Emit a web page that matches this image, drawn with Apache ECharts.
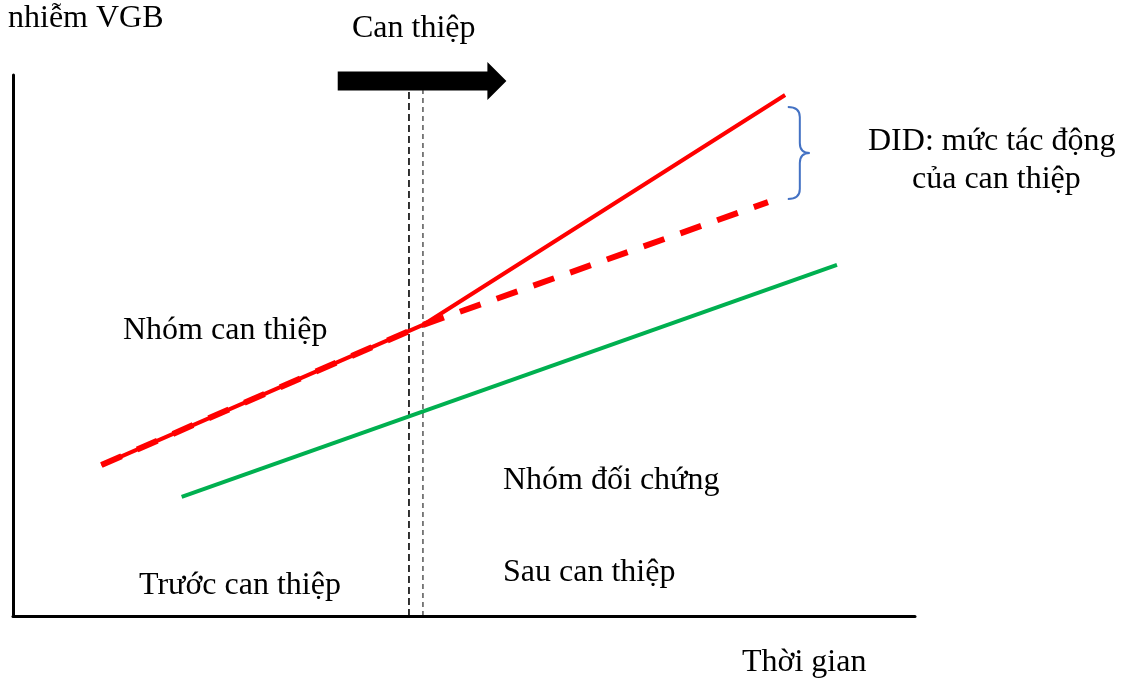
<!DOCTYPE html>
<html>
<head>
<meta charset="utf-8">
<script src="https://cdn.jsdelivr.net/npm/echarts@6/dist/echarts.min.js"></script>
<style>
html,body{margin:0;padding:0;background:#fff;}
#chart{width:1132px;height:678px;}
</style>
</head>
<body>
<div id="chart"></div>
<script>
// values, axes run 0..100 (no labels on the original)
var treat_x = [9.8, 45.45, 85.6];
var treat_y = [27.9, 53.8, 96.3];
var counter_x = [9.8, 45.45, 83.7];
var counter_y = [27.9, 53.8, 76.5];
var control_x = [18.7, 91.35];
var control_y = [22.0, 64.9];
var cut_x = [43.9, 45.45];
var cut_top = 97.2;
var arrow_x = [36.0, 54.7];
var arrow_y = 98.9;
var brace_x = 85.9;
var brace_y = [94.1, 77.1];

function pairs(xs, ys){
	var out = [];
	for (var i = 0; i < xs.length; i++) out.push([xs[i], ys[i]]);
	return out;
}

var font = '"Liberation Serif", "Times New Roman", serif';
function txt(s, x, y){
	return {type:'text', left:x, top:y, style:{text:s, font:'32px ' + font, fill:'#000'}};
}

var my_chart = echarts.init(document.getElementById('chart'));
my_chart.setOption({
	animation:false,
	grid:{left:13, right:217, top:75, bottom:62},
	xAxis:{
		type:'value', min:0, max:100,
		axisLine:{lineStyle:{color:'#000', width:3}},
		axisTick:{show:false}, axisLabel:{show:false}, splitLine:{show:false}
	},
	yAxis:{
		type:'value', min:0, max:100,
		axisLine:{show:true, lineStyle:{color:'#000', width:3}},
		axisTick:{show:false}, axisLabel:{show:false}, splitLine:{show:false}
	},
	series:[
		{
			type:'line', symbol:'none', silent:true,
			data:pairs([cut_x[0], cut_x[0]], [0, cut_top]),
			lineStyle:{color:'#000', width:1.6, type:[7,4]}
		},
		{
			type:'line', symbol:'none', silent:true,
			data:pairs([cut_x[1], cut_x[1]], [0, cut_top]),
			lineStyle:{color:'#000', width:1, type:[5,4]}
		},
		{
			type:'line', symbol:'none',
			data:pairs(control_x, control_y),
			lineStyle:{color:'#00b050', width:4}
		},
		{
			type:'line', symbol:'none',
			data:pairs(counter_x, counter_y),
			lineStyle:{color:'#ff0000', width:6, type:[22,17]}
		},
		{
			type:'line', symbol:'none',
			data:pairs(treat_x, treat_y),
			lineStyle:{color:'#ff0000', width:4}
		},
		{
			// the "Can thiệp" arrow
			type:'custom', silent:true,
			data:[[arrow_x[0], arrow_x[1], arrow_y]],
			renderItem:function(params, api){
				var a = api.coord([api.value(0), api.value(2)]);
				var b = api.coord([api.value(1), api.value(2)]);
				var hb = b[0] - 19;
				return {
					type:'polygon',
					shape:{points:[[a[0],a[1]-9.5],[hb,a[1]-9.5],[hb,a[1]-19],[b[0],a[1]],[hb,a[1]+19],[hb,a[1]+9.5],[a[0],a[1]+9.5]]},
					style:{fill:'#000'}
				};
			}
		},
		{
			// brace showing the DID gap
			type:'custom', silent:true,
			data:[[brace_x, brace_y[0], brace_y[1]]],
			renderItem:function(params, api){
				var t = api.coord([api.value(0), api.value(1)]);
				var b = api.coord([api.value(0), api.value(2)]);
				var x = t[0], v = x + 12, tip = x + 22, m = (t[1] + b[1]) / 2;
				var d = 'M' + x + ' ' + t[1] + ' Q' + v + ' ' + t[1] + ' ' + v + ' ' + (t[1]+10) +
					' L' + v + ' ' + (m-10) + ' Q' + v + ' ' + m + ' ' + tip + ' ' + m +
					' Q' + v + ' ' + m + ' ' + v + ' ' + (m+10) +
					' L' + v + ' ' + (b[1]-10) + ' Q' + v + ' ' + b[1] + ' ' + x + ' ' + b[1];
				return {
					type:'path',
					shape:{pathData:d},
					style:{fill:null, stroke:'#4472c4', lineWidth:2}
				};
			}
		}
	],
	graphic:[
		txt('nhiễm VGB', 8, 3),
		txt('Can thiệp', 352, 13),
		txt('DID: mức tác động', 868, 126),
		txt('của can thiệp', 912, 164),
		txt('Nhóm can thiệp', 123, 315),
		txt('Nhóm đối chứng', 503, 465),
		txt('Sau can thiệp', 503, 557),
		txt('Trước can thiệp', 139, 570),
		txt('Thời gian', 742, 647)
	]
});
</script>
</body>
</html>
